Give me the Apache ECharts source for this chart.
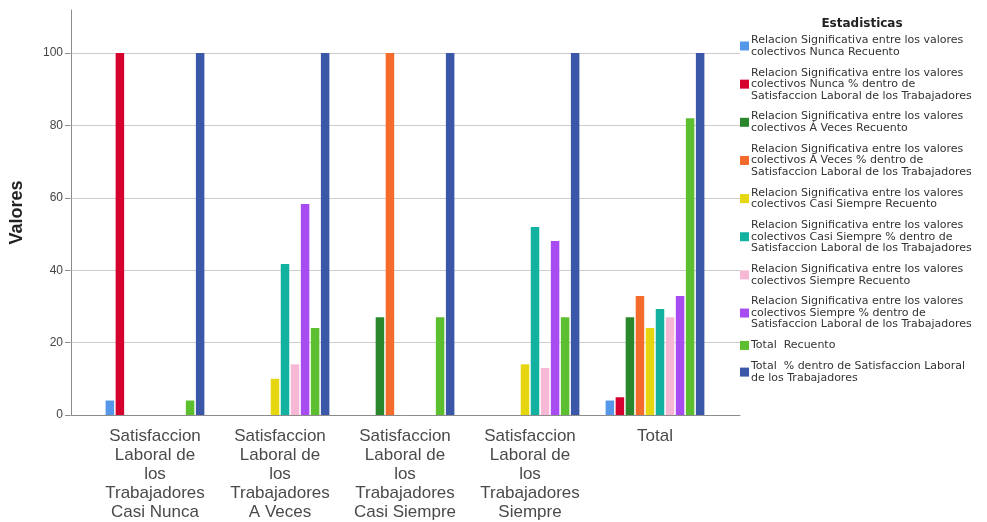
<!DOCTYPE html>
<html>
<head>
<meta charset="utf-8">
<script src="https://cdn.jsdelivr.net/npm/echarts@6/dist/echarts.min.js"></script>
<style>
  html, body { margin: 0; padding: 0; background: #ffffff; }
  #chart { width: 987px; height: 522px; }
</style>
</head>
<body>
<div id="chart"></div>
<script>
// Categories on the x axis (one group of bars per category)
const categories = [
  'Satisfaccion\nLaboral de\nlos\nTrabajadores\nCasi Nunca',
  'Satisfaccion\nLaboral de\nlos\nTrabajadores\nA Veces',
  'Satisfaccion\nLaboral de\nlos\nTrabajadores\nCasi Siempre',
  'Satisfaccion\nLaboral de\nlos\nTrabajadores\nSiempre',
  'Total'
];

// Series names (line breaks as shown in the legend)
const seriesNames = [
  'Relacion Significativa entre los valores\ncolectivos Nunca Recuento',
  'Relacion Significativa entre los valores\ncolectivos Nunca % dentro de\nSatisfaccion Laboral de los Trabajadores',
  'Relacion Significativa entre los valores\ncolectivos Á Veces Recuento',
  'Relacion Significativa entre los valores\ncolectivos Á Veces % dentro de\nSatisfaccion Laboral de los Trabajadores',
  'Relacion Significativa entre los valores\ncolectivos Casi Siempre Recuento',
  'Relacion Significativa entre los valores\ncolectivos Casi Siempre % dentro de\nSatisfaccion Laboral de los Trabajadores',
  'Relacion Significativa entre los valores\ncolectivos Siempre Recuento',
  'Relacion Significativa entre los valores\ncolectivos Siempre % dentro de\nSatisfaccion Laboral de los Trabajadores',
  'Total  Recuento',
  'Total  % dentro de Satisfaccion Laboral\nde los Trabajadores'
];

// Values per series, one entry per category (null = no bar)
const nuncaRecuento        = [4,    null, null, null, 4];
const nuncaPct             = [100,  null, null, null, 4.9];
const avecesRecuento       = [null, null, 27,   null, 27];
const avecesPct            = [null, null, 100,  null, 32.9];
const casiSiempreRecuento  = [null, 10,   null, 14,   24];
const casiSiemprePct       = [null, 41.7, null, 51.9, 29.3];
const siempreRecuento      = [null, 14,   null, 13,   27];
const siemprePct           = [null, 58.3, null, 48.1, 32.9];
const totalRecuento        = [4,    24,   27,   27,   82];
const totalPct             = [100,  100,  100,  100,  100];

// Y axis tick values
const yTicks = [0, 20, 40, 60, 80, 100];

const seriesValues = [
  nuncaRecuento, nuncaPct, avecesRecuento, avecesPct,
  casiSiempreRecuento, casiSiemprePct, siempreRecuento, siemprePct,
  totalRecuento, totalPct
];

const colors = [
  '#5598ea', '#d6002f', '#2b872b', '#f46b2b', '#e6d610',
  '#12b1a0', '#f7b8d6', '#a64cf0', '#5cbf30', '#3b58a8'
];

const chart = echarts.init(document.getElementById('chart'), null, { renderer: 'canvas' });

const plotBottom = 107;   // x axis baseline
const valueTop = 53;      // position of the 100 value

const option = {
  animation: false,
  backgroundColor: '#ffffff',
  color: colors,
  grid: [
    // frame: long axis lines
    { left: 70, right: 247, top: 10, bottom: plotBottom },
    // ticks, labels and grid lines
    { left: 70, right: 247, top: valueTop, bottom: plotBottom },
    // bars
    { left: 92.5, right: 269.5, top: valueTop, bottom: plotBottom }
  ],
  xAxis: [
    {
      gridIndex: 0, type: 'value', min: 0, max: 1,
      axisLine: { show: true, lineStyle: { color: '#8c8c8c', width: 1 } },
      axisTick: { show: false }, axisLabel: { show: false }, splitLine: { show: false }
    },
    {
      gridIndex: 1, type: 'value', min: 0, max: 1, show: false
    },
    {
      gridIndex: 2, type: 'category', data: categories,
      axisLine: { show: false }, axisTick: { show: false },
      axisLabel: {
        interval: 0, margin: 12, fontSize: 17, lineHeight: 19,
        fontFamily: 'Liberation Sans, Arial, sans-serif', color: '#4a4a4a'
      }
    }
  ],
  yAxis: [
    {
      gridIndex: 0, type: 'value', min: 0, max: 1,
      name: 'Valores', nameLocation: 'middle', nameRotate: 90, nameGap: 45,
      nameTextStyle: {
        fontSize: 18, fontWeight: 'bold', color: '#222222',
        fontFamily: 'Liberation Sans, Arial, sans-serif'
      },
      axisLine: { show: true, lineStyle: { color: '#8c8c8c', width: 1 } },
      axisTick: { show: false }, axisLabel: { show: false }, splitLine: { show: false }
    },
    {
      gridIndex: 1, type: 'value', min: yTicks[0], max: yTicks[yTicks.length - 1], interval: 20,
      axisLine: { show: false },
      axisTick: { show: true, length: 5, lineStyle: { color: '#8c8c8c' } },
      axisLabel: {
        margin: 7, fontSize: 12, color: '#444444',
        fontFamily: 'Liberation Sans, Arial, sans-serif'
      },
      splitLine: { show: true, lineStyle: { color: '#cdcdcd', width: 1 } }
    },
    {
      gridIndex: 2, type: 'value', min: yTicks[0], max: yTicks[yTicks.length - 1], show: false
    }
  ],
  legend: {
    orient: 'vertical',
    left: 740,
    top: 34.5,
    padding: 0,
    itemWidth: 9,
    itemHeight: 9,
    itemGap: 9.4,
    icon: 'rect',
    data: seriesNames,
    textStyle: {
      fontFamily: 'DejaVu Sans, sans-serif', fontSize: 11, lineHeight: 11.5,
      color: '#333333', padding: [0, 0, 0, -3]
    }
  },
  graphic: [
    {
      type: 'text', x: 862, y: 24,
      style: {
        text: 'Estadisticas', align: 'center', verticalAlign: 'middle',
        font: 'bold 12px "DejaVu Sans", sans-serif', fill: '#222222'
      }
    }
  ],
  series: seriesNames.map((name, i) => ({
    name: name,
    type: 'bar',
    xAxisIndex: 2,
    yAxisIndex: 2,
    barWidth: 8.5,
    barGap: '18%',
    data: seriesValues[i]
  }))
};

chart.setOption(option);
</script>
</body>
</html>
